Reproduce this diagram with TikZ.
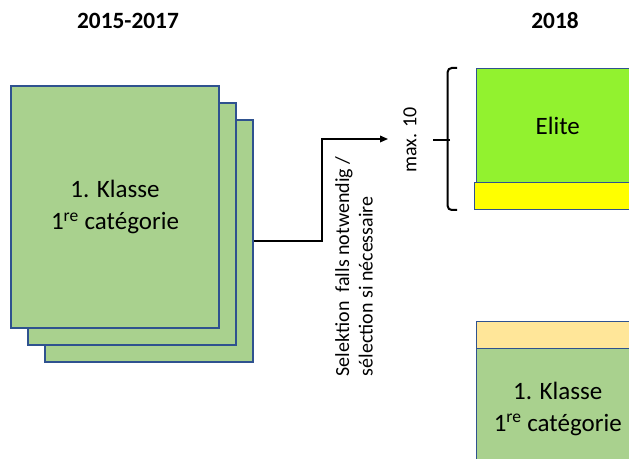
\documentclass[tikz,border=0pt]{standalone}
\usepackage{fontspec}
\setmainfont{Carlito}
\usetikzlibrary{positioning, arrows.meta}
\definecolor{frameblue}{RGB}{47,82,143}
\definecolor{klassegreen}{RGB}{169,209,142}
\definecolor{elitegreen}{RGB}{146,242,47}
\definecolor{reserveyellow}{RGB}{255,255,0}
\definecolor{paleorange}{RGB}{255,230,153}
\tikzset{
  sheet/.style={draw=frameblue, line width=1.1pt, fill=klassegreen, align=center,
                minimum width=156pt, minimum height=181.5pt, inner sep=0pt,
                font=\fontsize{18.75}{24}\selectfont},
  band/.style={draw=frameblue, line width=1.1pt, anchor=north west, align=center,
               inner sep=0pt, font=\fontsize{18.75}{24}\selectfont},
  flow/.style={-{Triangle[length=6pt, width=5pt]}, line width=1pt},
  brace/.style={line width=1.5pt, rounded corners=3pt},
  year/.style={font=\bfseries\fontsize{17.5}{21}\selectfont},
  lbl/.style={font=\fontsize{15}{17.5}\selectfont, align=left, rotate=90}
}

\begin{document}
\begin{tikzpicture}[x=0.75pt, y=-0.75pt]
  \clip (0,0) rectangle (629,459);
  % years
  \node[year] (old) at (128,21) {2015-2017};
  \node[year] (new) at (555,21) {2018};
  % stacked sheets 2015-2017
  \node[sheet] (s3) at (149,241) {};
  \node[sheet] (s2) at (132,224) {};
  \node[sheet] (s1) at (115,207) {1. Klasse\\1\textsuperscript{re} catégorie};
  % 2018 boxes
  \node[band, fill=elitegreen, minimum width=121.5pt, minimum height=85.5pt] (elite) at (476,68) {Elite};
  \node[band, fill=reserveyellow, minimum width=123pt, minimum height=20.25pt] (res) at (474,182) {};
  \node[band, fill=paleorange, minimum width=121.5pt, minimum height=20.25pt] (top) at (476,321) {};
  \node[band, fill=klassegreen, minimum width=121.5pt, minimum height=90pt] (k1) at (476,348) {1. Klasse\\1\textsuperscript{re} catégorie};
  % brace
  \coordinate (btop) at (457,68);
  \coordinate (bbot) at (457,210);
  \coordinate (bmid) at (450,140);
  \coordinate (btip) at (433,140);
  \draw[brace] (btop) -| ([xshift=-7]bbot) -- (bbot);
  \draw[line width=1.5pt] (bmid) -- (btip);
  \node[lbl] (max) at (410,140) {max. 10};
  % selection
  \coordinate (bend) at (322,139);
  \coordinate (tgt) at (388,139);
  \draw[flow] (s3.east) -| (bend) -- (tgt);
  \node[lbl, anchor=west] (sel) at (354,381) {Selektion~ falls notwendig /\\sélection si nécessaire};
\end{tikzpicture}
\end{document}
